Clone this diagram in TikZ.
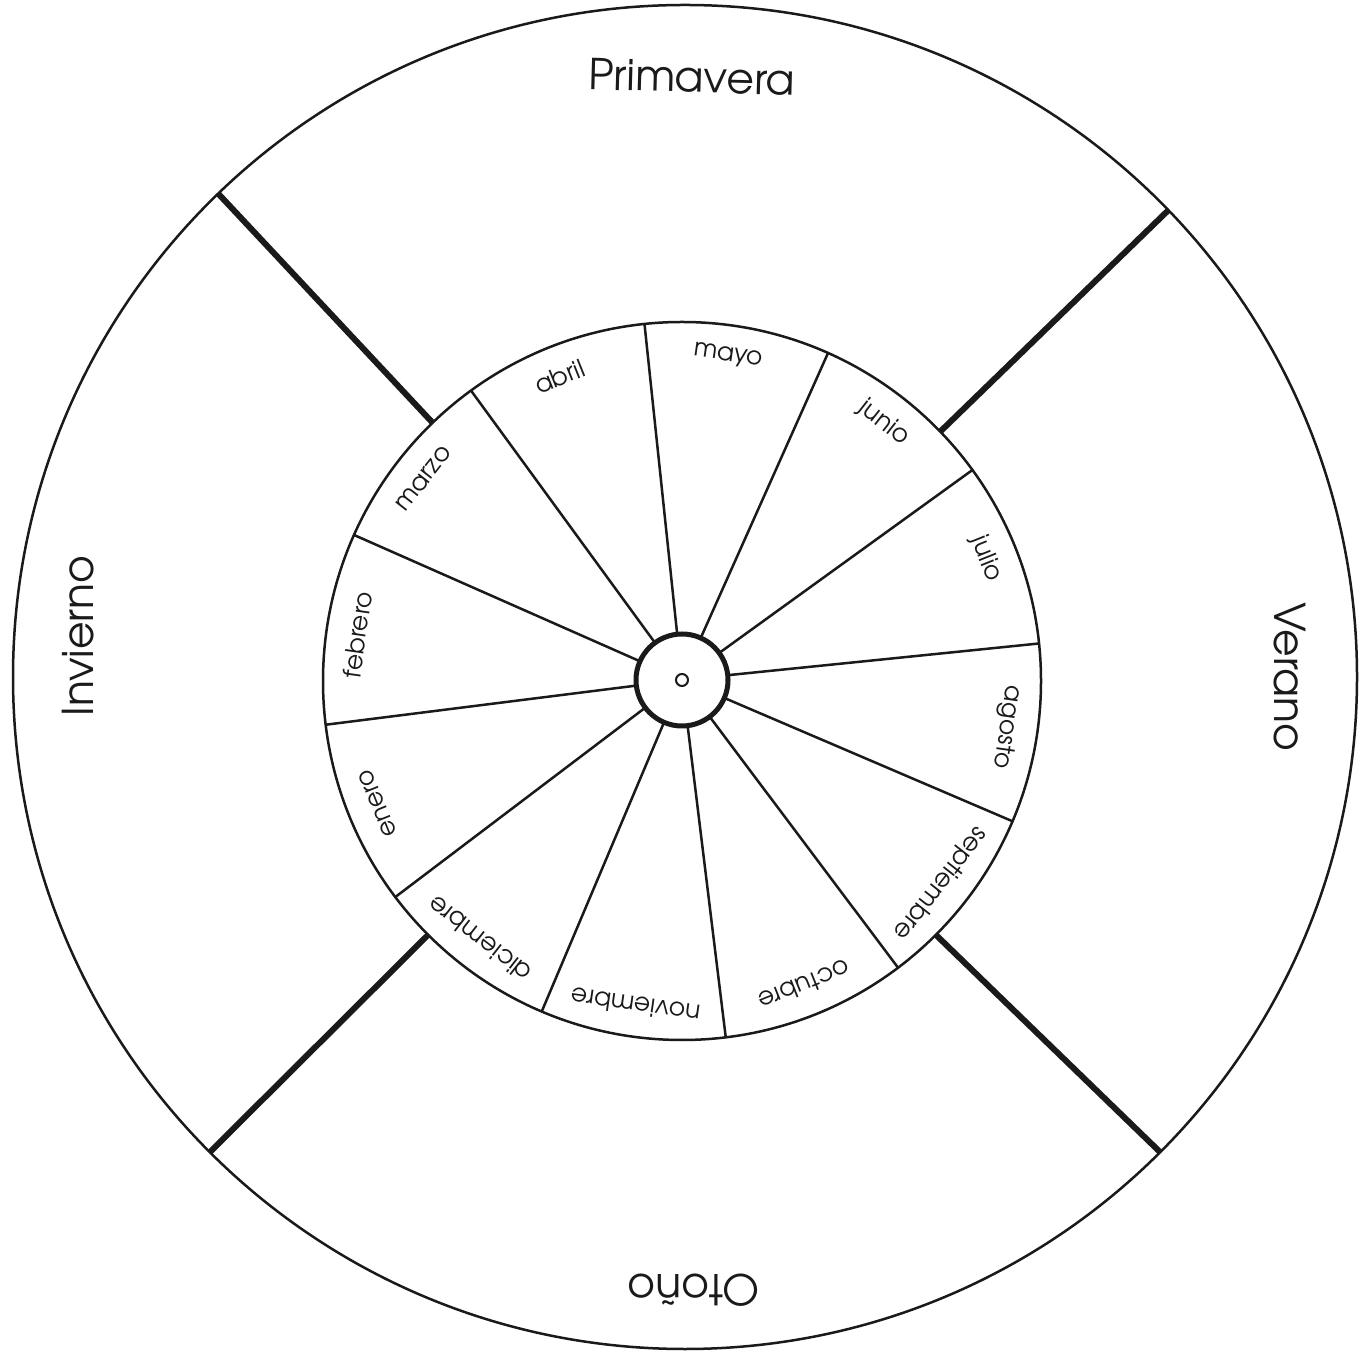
\documentclass[tikz,border=0pt]{standalone}
\usepackage{fontspec}
\setmainfont{TeX Gyre Adventor}
\definecolor{ink}{HTML}{1A1A1A}
\begin{document}
\begin{tikzpicture}[x=1pt,y=1pt,
  ring/.style={circle,draw=ink,line width=2.5pt,inner sep=0pt,outer sep=0pt},
  spoke/.style={draw=ink,line width=2.5pt},
  divider/.style={draw=ink,line width=6pt},
  month/.style={text=ink,font=\fontsize{25}{30}\selectfont,inner sep=0pt},
  season/.style={text=ink,font=\fontsize{42.5}{51}\selectfont,inner sep=0pt}]
\useasboundingbox (0,0) rectangle (1364,1352);
\fill[white] (0,0) rectangle (1364,1352);
% circles
\node[ring,minimum size=1344pt] (rim) at (685,675) {};
\node[ring,minimum size=718pt] (wheel) at (682,671) {};
\node[ring,minimum size=92pt,line width=5pt] (hub) at (682,672) {};
\node[ring,minimum size=12pt,line width=2pt] (axle) at (682,672) {};
% spokes
\foreach \a in {96.9,66.9,36.9,6.9,-23.1,-53.1,-83.1,-113.1,-143.1,-173.1,156.9,126.9}
  \draw[spoke] (hub.\a) -- (wheel.\a);
% season dividers
\foreach \a in {134.4,44.4,-45.9,-135.9}
  \draw[divider] (wheel.\a) -- (rim.\a);
% months
\foreach \n/\a in {mayo/81.9,junio/51.9,julio/21.9,agosto/-8.1,septiembre/-38.1,octubre/-68.1,noviembre/-98.1,diciembre/-128.1,enero/-158.1,febrero/171.9,marzo/141.9,abril/111.9}
  \node[month,rotate=\a-90] (m-\n) at ([shift={(\a:328pt)}]wheel.center) {\n};
% seasons
\node[season,rotate=-1.5] (primavera) at (692,1275) {Primavera};
\node[season,rotate=-90] (verano) at (1290,675) {Verano};
\node[season,rotate=180] (otono) at (694,62) {Otoño};
\node[season,rotate=90] (invierno) at (78,716) {Invierno};
\end{tikzpicture}
\end{document}
